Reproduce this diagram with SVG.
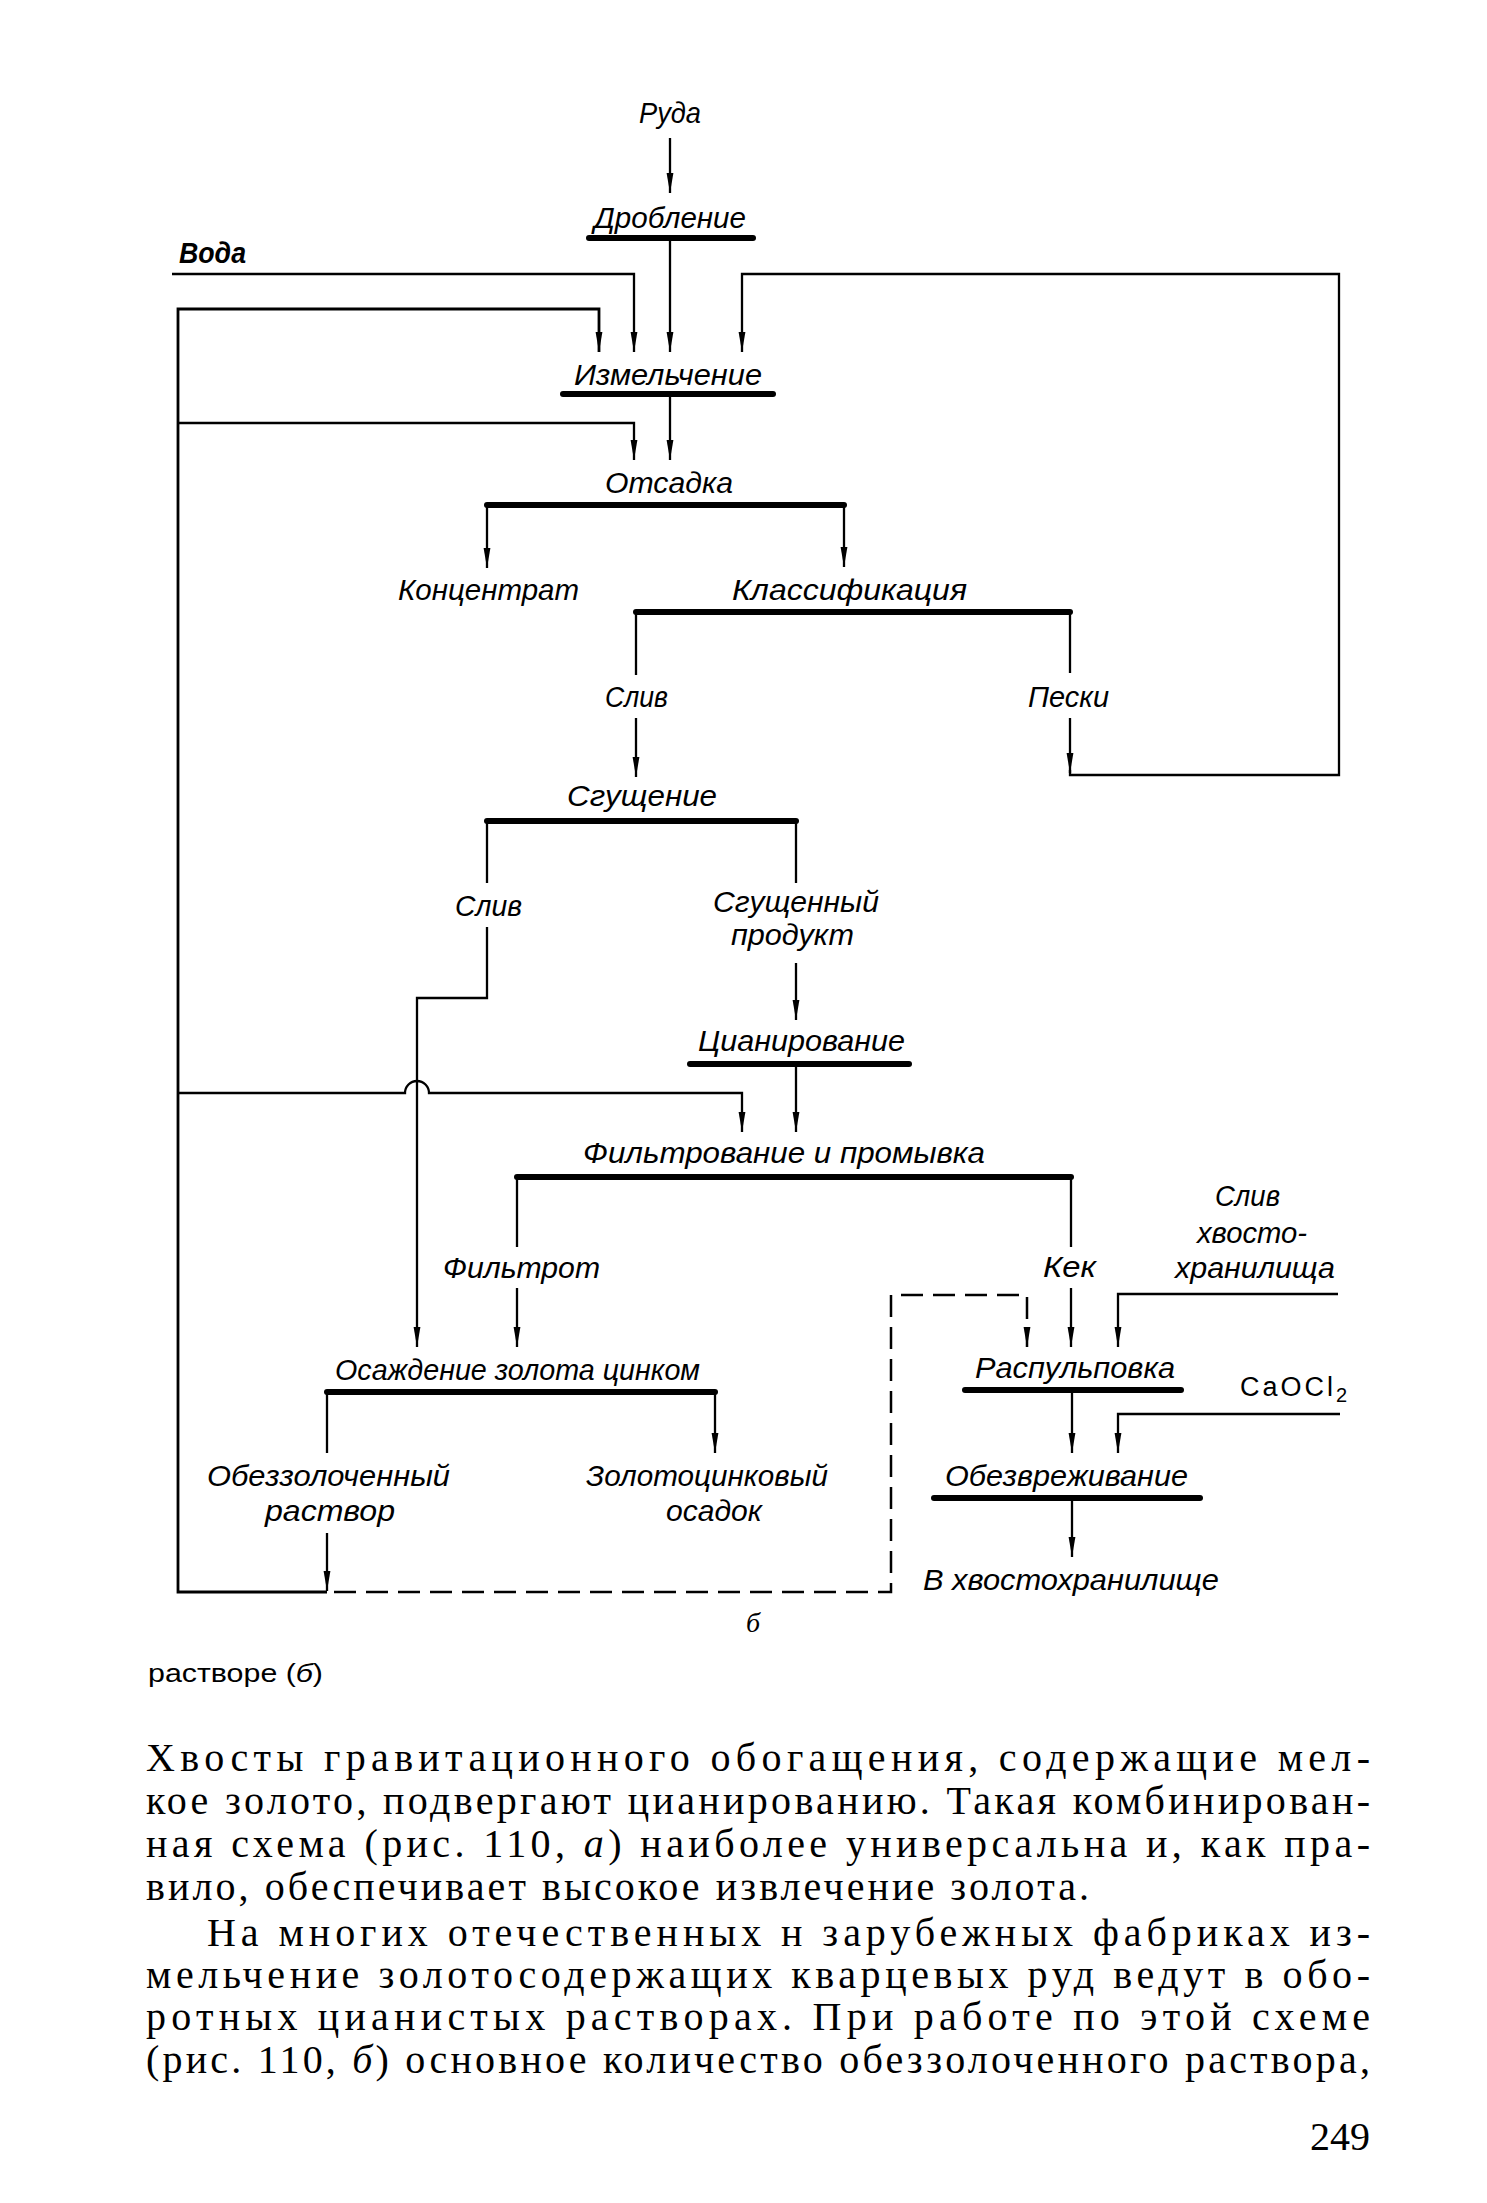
<svg xmlns="http://www.w3.org/2000/svg" width="1487" height="2203" viewBox="0 0 1487 2203">
<style>
.ln{fill:none;stroke:#000;stroke-width:2.3}
.lnb{fill:none;stroke:#000;stroke-width:2.8}
.bar{stroke:#000;stroke-width:6;stroke-linecap:round}
.dash{fill:none;stroke:#000;stroke-width:2.5;stroke-dasharray:22 10}
.lbl{font-family:"Liberation Sans","DejaVu Sans",sans-serif;font-style:italic;font-size:30px;fill:#000}
.body{font-family:"Liberation Serif","DejaVu Serif",serif;font-size:40px;fill:#000}
.it{font-style:italic}
</style>
<defs>
<marker id="ah" markerUnits="userSpaceOnUse" markerWidth="20" markerHeight="8" refX="20" refY="4" orient="auto">
<path d="M0,0.6 L20,4 L0,7.4 z" fill="#000"/>
</marker>
</defs>
<rect width="1487" height="2203" fill="#fff"/>

<g id="connectors">
<line class="ln" x1="670" y1="138" x2="670" y2="193" marker-end="url(#ah)"/>
<line class="ln" x1="670" y1="238" x2="670" y2="352" marker-end="url(#ah)"/>
<polyline class="ln" points="172,274 634,274 634,352" marker-end="url(#ah)"/>
<polyline class="lnb" points="327,1592 178,1592 178,309 599,309 599,352" marker-end="url(#ah)"/>
<polyline class="ln" points="178,423 634,423 634,460" marker-end="url(#ah)"/>
<line class="ln" x1="1070" y1="718" x2="1070" y2="773" marker-end="url(#ah)"/>
<polyline class="ln" points="1070,770 1070,775 1339,775 1339,274 742,274 742,352" marker-end="url(#ah)"/>
<line class="ln" x1="670" y1="394" x2="670" y2="460" marker-end="url(#ah)"/>
<line class="ln" x1="487" y1="505" x2="487" y2="568" marker-end="url(#ah)"/>
<line class="ln" x1="844" y1="505" x2="844" y2="567" marker-end="url(#ah)"/>
<line class="ln" x1="636" y1="612" x2="636" y2="675"/>
<line class="ln" x1="1070" y1="612" x2="1070" y2="673"/>
<line class="ln" x1="636" y1="718" x2="636" y2="777" marker-end="url(#ah)"/>
<line class="ln" x1="487" y1="821" x2="487" y2="883"/>
<line class="ln" x1="796" y1="821" x2="796" y2="883"/>
<polyline class="ln" points="487,927 487,998 417,998 417,1347" marker-end="url(#ah)"/>
<line class="ln" x1="796" y1="963" x2="796" y2="1020" marker-end="url(#ah)"/>
<line class="ln" x1="796" y1="1064" x2="796" y2="1132" marker-end="url(#ah)"/>
<path class="ln" d="M178,1093 L405,1093 A12,12 0 0 1 429,1093 L742,1093 L742,1132" marker-end="url(#ah)"/>
<line class="ln" x1="517" y1="1177" x2="517" y2="1247"/>
<line class="ln" x1="1071" y1="1177" x2="1071" y2="1247"/>
<line class="ln" x1="517" y1="1288" x2="517" y2="1347" marker-end="url(#ah)"/>
<line class="ln" x1="1071" y1="1288" x2="1071" y2="1347" marker-end="url(#ah)"/>
<polyline class="ln" points="1338,1294 1118,1294 1118,1347" marker-end="url(#ah)"/>
<polyline class="dash" points="334,1592 891,1592 891,1295 1027,1295 1027,1347" marker-end="url(#ah)"/>
<line class="ln" x1="327" y1="1392" x2="327" y2="1453"/>
<line class="ln" x1="715" y1="1392" x2="715" y2="1453" marker-end="url(#ah)"/>
<line class="ln" x1="327" y1="1533" x2="327" y2="1591" marker-end="url(#ah)"/>
<line class="ln" x1="1072" y1="1390" x2="1072" y2="1453" marker-end="url(#ah)"/>
<polyline class="ln" points="1340,1414 1118,1414 1118,1453" marker-end="url(#ah)"/>
<line class="ln" x1="1072" y1="1498" x2="1072" y2="1557" marker-end="url(#ah)"/>
</g>

<g id="ruda"><text class="lbl" x="639" y="123" textLength="62" lengthAdjust="spacingAndGlyphs">Руда</text></g>
<g id="voda"><text class="lbl" x="179" y="263" textLength="67" lengthAdjust="spacingAndGlyphs" font-weight="bold">Вода</text></g>
<g id="droblenie"><text class="lbl" x="594" y="228" textLength="152" lengthAdjust="spacingAndGlyphs">Дробление</text><line class="bar" x1="589" y1="238" x2="753" y2="238"/></g>
<g id="izmelchenie"><text class="lbl" x="574" y="385" textLength="188" lengthAdjust="spacingAndGlyphs">Измельчение</text><line class="bar" x1="563" y1="394" x2="773" y2="394"/></g>
<g id="otsadka"><text class="lbl" x="605" y="493" textLength="128" lengthAdjust="spacingAndGlyphs">Отсадка</text><line class="bar" x1="487" y1="505" x2="844" y2="505"/></g>
<g id="koncentrat"><text class="lbl" x="398" y="600" textLength="181" lengthAdjust="spacingAndGlyphs">Концентрат</text></g>
<g id="klassifikaciya"><text class="lbl" x="732" y="600" textLength="235" lengthAdjust="spacingAndGlyphs">Классификация</text><line class="bar" x1="636" y1="612" x2="1070" y2="612"/></g>
<g id="sliv1"><text class="lbl" x="605" y="707" textLength="63" lengthAdjust="spacingAndGlyphs">Слив</text></g>
<g id="peski"><text class="lbl" x="1028" y="707" textLength="81" lengthAdjust="spacingAndGlyphs">Пески</text></g>
<g id="sgushchenie"><text class="lbl" x="567" y="806" textLength="150" lengthAdjust="spacingAndGlyphs">Сгущение</text><line class="bar" x1="487" y1="821" x2="796" y2="821"/></g>
<g id="sliv2"><text class="lbl" x="455" y="916" textLength="67" lengthAdjust="spacingAndGlyphs">Слив</text></g>
<g id="sgushchenny"><text class="lbl" x="713" y="912" textLength="166" lengthAdjust="spacingAndGlyphs">Сгущенный</text><text class="lbl" x="731" y="945" textLength="123" lengthAdjust="spacingAndGlyphs">продукт</text></g>
<g id="cianirovanie"><text class="lbl" x="698" y="1051" textLength="207" lengthAdjust="spacingAndGlyphs">Цианирование</text><line class="bar" x1="690" y1="1064" x2="909" y2="1064"/></g>
<g id="filtrovanie"><text class="lbl" x="583" y="1163" textLength="402" lengthAdjust="spacingAndGlyphs">Фильтрование и промывка</text><line class="bar" x1="517" y1="1177" x2="1071" y2="1177"/></g>
<g id="filtrat"><text class="lbl" x="443" y="1278" textLength="157" lengthAdjust="spacingAndGlyphs">Фильтрот</text></g>
<g id="kek"><text class="lbl" x="1043" y="1277" textLength="53" lengthAdjust="spacingAndGlyphs">Кек</text></g>
<g id="sliv-hvost"><text class="lbl" x="1215" y="1206" textLength="65" lengthAdjust="spacingAndGlyphs">Слив</text><text class="lbl" x="1197" y="1243" textLength="110" lengthAdjust="spacingAndGlyphs">хвосто-</text><text class="lbl" x="1175" y="1278" textLength="160" lengthAdjust="spacingAndGlyphs">хранилища</text></g>
<g id="osazhdenie"><text class="lbl" x="335" y="1380" textLength="365" lengthAdjust="spacingAndGlyphs">Осаждение золота цинком</text><line class="bar" x1="327" y1="1392" x2="715" y2="1392"/></g>
<g id="raspulpovka"><text class="lbl" x="975" y="1378" textLength="200" lengthAdjust="spacingAndGlyphs">Распульповка</text><line class="bar" x1="965" y1="1390" x2="1181" y2="1390"/></g>
<g id="caocl2"><text x="1240" y="1396" font-family="Liberation Sans, DejaVu Sans, sans-serif" font-size="27" letter-spacing="3">CaOCl<tspan dy="6" font-size="20">2</tspan></text></g>
<g id="obezzolochenny"><text class="lbl" x="207" y="1486" textLength="243" lengthAdjust="spacingAndGlyphs">Обеззолоченный</text><text class="lbl" x="265" y="1521" textLength="130" lengthAdjust="spacingAndGlyphs">раствор</text></g>
<g id="zolotocinkovy"><text class="lbl" x="586" y="1486" textLength="242" lengthAdjust="spacingAndGlyphs">Золотоцинковый</text><text class="lbl" x="666" y="1521" textLength="96" lengthAdjust="spacingAndGlyphs">осадок</text></g>
<g id="obezvrezhivanie"><text class="lbl" x="945" y="1486" textLength="243" lengthAdjust="spacingAndGlyphs">Обезвреживание</text><line class="bar" x1="934" y1="1498" x2="1200" y2="1498"/></g>
<g id="v-hvostohranilishche"><text class="lbl" x="923" y="1590" textLength="296" lengthAdjust="spacingAndGlyphs">В хвостохранилище</text></g>

<g id="caption">
<text x="746" y="1632" font-family="Liberation Serif, DejaVu Serif, serif" font-style="italic" font-size="28">б</text>
<text x="148" y="1682" font-family="Liberation Sans, DejaVu Sans, sans-serif" font-size="25" textLength="175" lengthAdjust="spacingAndGlyphs">растворе (<tspan class="it">б</tspan>)</text>
</g>

<g id="body-text">
<text class="body" x="146" y="1771" textLength="1224" lengthAdjust="spacing">Хвосты гравитационного обогащения, содержащие мел-</text>
<text class="body" x="146" y="1814" textLength="1224" lengthAdjust="spacing">кое золото, подвергают цианированию. Такая комбинирован-</text>
<text class="body" x="146" y="1857" textLength="1224" lengthAdjust="spacing">ная схема (рис. 110, <tspan class="it">а</tspan>) наиболее универсальна и, как пра-</text>
<text class="body" x="146" y="1900" textLength="943" lengthAdjust="spacing">вило, обеспечивает высокое извлечение золота.</text>
<text class="body" x="207" y="1946" textLength="1163" lengthAdjust="spacing">На многих отечественных н зарубежных фабриках из-</text>
<text class="body" x="146" y="1988" textLength="1224" lengthAdjust="spacing">мельчение золотосодержащих кварцевых руд ведут в обо-</text>
<text class="body" x="146" y="2030" textLength="1224" lengthAdjust="spacing">ротных цианистых растворах. При работе по этой схеме</text>
<text class="body" x="146" y="2073" textLength="1224" lengthAdjust="spacing">(рис. 110, <tspan class="it">б</tspan>) основное количество обеззолоченного раствора,</text>
<text class="body" x="1370" y="2150" text-anchor="end" font-size="34">249</text>
</g>
</svg>
